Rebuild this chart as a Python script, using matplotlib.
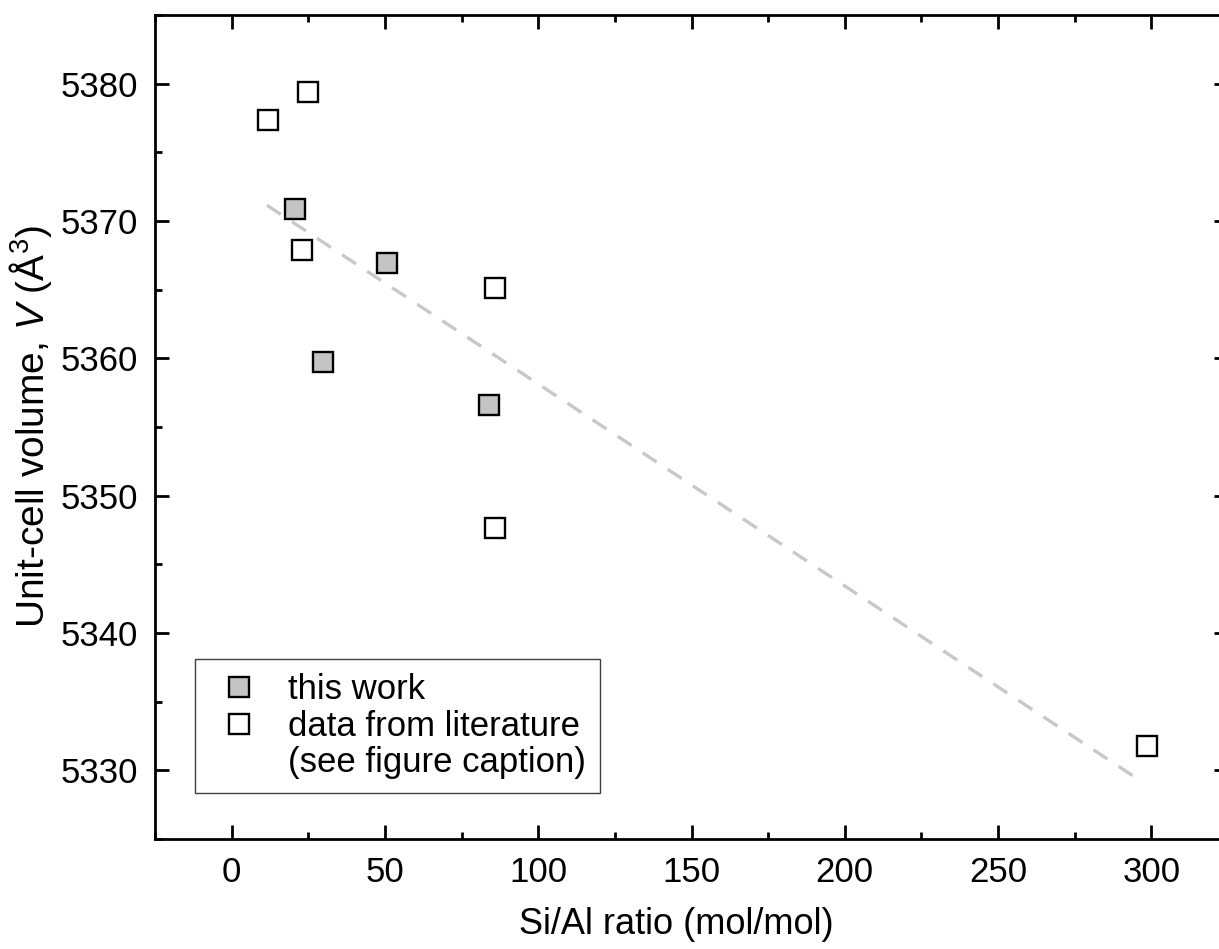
import matplotlib
matplotlib.use("Agg")
import matplotlib.pyplot as plt
from matplotlib.lines import Line2D
from matplotlib.ticker import MultipleLocator

plt.rcParams['font.family'] = ['Liberation Sans', 'DejaVu Sans']
plt.rcParams['mathtext.fontset'] = 'custom'
plt.rcParams['mathtext.rm'] = 'Liberation Sans'
plt.rcParams['mathtext.it'] = 'Liberation Sans:italic'

# this work
work_x = [20.8, 50.8, 29.8, 83.8]
work_y = [5370.86, 5366.95, 5359.71, 5356.59]
# data from literature
lit_x = [11.8, 24.9, 22.9, 85.8, 85.8, 298.7]
lit_y = [5377.37, 5379.39, 5367.86, 5365.12, 5347.64, 5331.74]
# trend line ends
fit_x = [11.5, 294.0]
fit_y = [5371.15, 5329.6]

fig = plt.figure(figsize=(12.19, 9.49), dpi=100)
ax = fig.add_axes([155/1219, 110/949, 1073/1219, 824/949])

ax.plot(fit_x, fit_y, color='#c8c8c8', lw=2.4, dashes=(5, 4), zorder=1)
ax.plot(work_x, work_y, 's', ms=14, mfc='#c4c4c4', mec='black', mew=1.7,
        linestyle='none', zorder=3)
ax.plot(lit_x, lit_y, 's', ms=14, mfc='white', mec='black', mew=1.7,
        linestyle='none', zorder=3)

ax.set_xlim(-25, 325)
ax.set_ylim(5325, 5385)
ax.xaxis.set_major_locator(MultipleLocator(50))
ax.xaxis.set_minor_locator(MultipleLocator(25))
ax.yaxis.set_major_locator(MultipleLocator(10))
ax.yaxis.set_minor_locator(MultipleLocator(5))
ax.set_xticks([0, 50, 100, 150, 200, 250, 300])
ax.tick_params(which='both', direction='in', top=True, right=True,
               width=2.0, labelsize=25)
ax.tick_params(which='major', length=10, pad=12)
ax.tick_params(which='minor', length=5)
for s in ax.spines.values():
    s.set_linewidth(2.0)

ax.set_xlabel('Si/Al ratio (mol/mol)', fontsize=26)
ax.xaxis.set_label_coords(0.4856, -0.0825)
ax.set_ylabel('Unit-cell volume, $\\it{V}$ (Å$^3$)', fontsize=28, labelpad=5)

h1 = Line2D([], [], marker='s', ms=14, mfc='#c4c4c4', mec='black', mew=1.7, ls='none')
h2 = Line2D([], [], marker='s', ms=14, mfc='white', mec='black', mew=1.7, ls='none')
h3 = Line2D([], [], ls='none')
leg = ax.legend([h1, h2, h3],
                ['this work', 'data from literature', '(see figure caption)'],
                loc='lower left', bbox_to_anchor=(0.0373, 0.0558),
                borderaxespad=0, fontsize=25, fancybox=False,
                edgecolor='#404040', framealpha=1, handlelength=1.74,
                handletextpad=0.54, labelspacing=0.1, borderpad=0.4)
leg.get_frame().set_linewidth(1.0)

fig.savefig('out.png', dpi=100)
